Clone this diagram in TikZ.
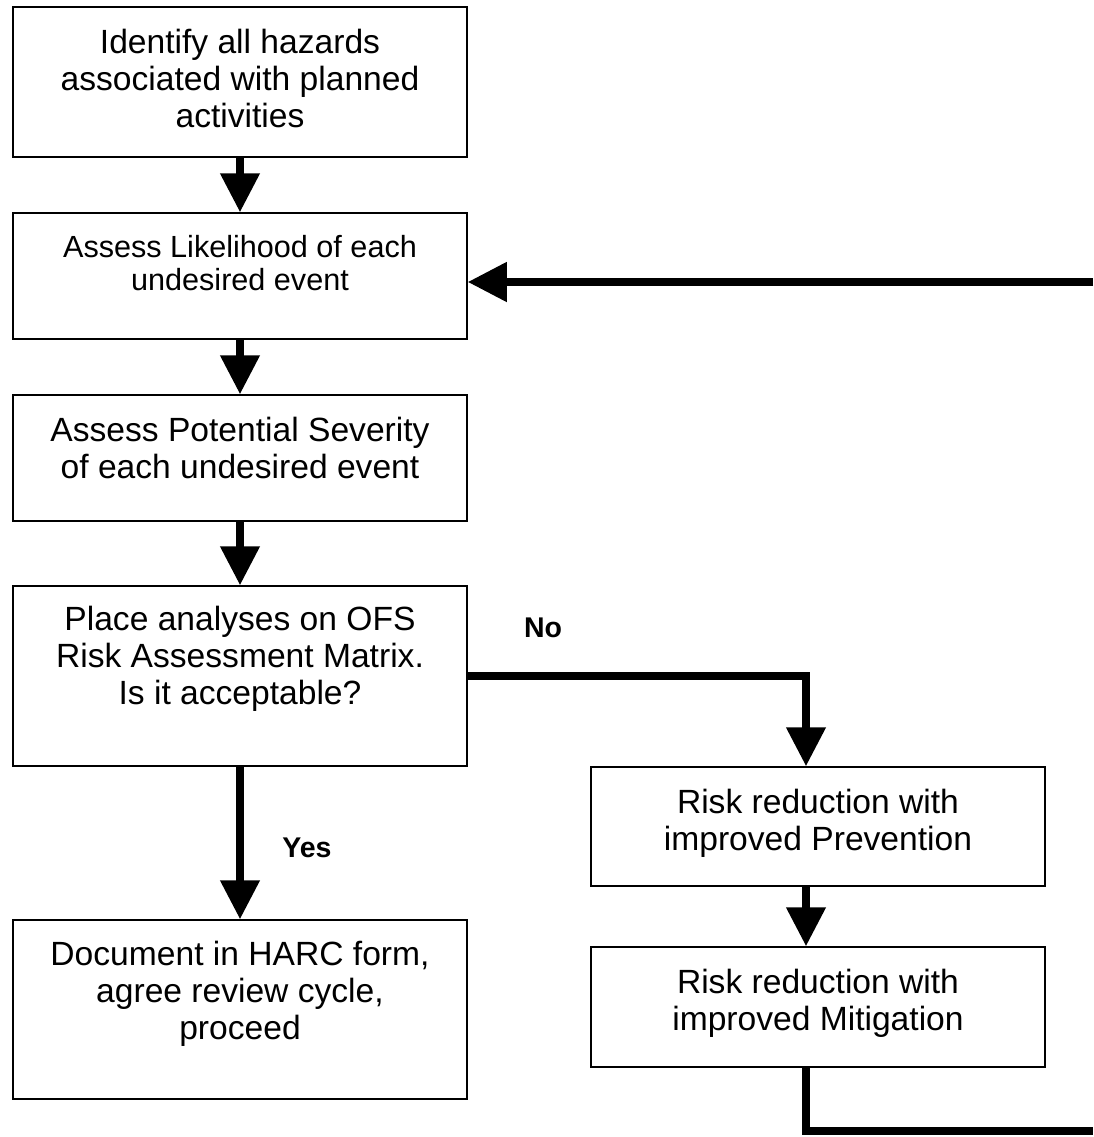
\documentclass[tikz,border=0pt]{standalone}
\usepackage{fontspec}
\setmainfont{Liberation Sans}
\usetikzlibrary{arrows.meta}

\tikzset{
	stepbox/.style={draw, line width=1.5pt, minimum width=454pt, inner sep=0pt},
	steptext/.style={anchor=north, inner sep=0pt, align=center, font=\fontsize{33.6}{37}\selectfont},
	flowline/.style={line width=7.7pt},
	flowarrow/.style={line width=7.7pt, -{Triangle[width=38pt,length=39pt]}},
	answer/.style={font=\bfseries\fontsize{28.5}{32}\selectfont}
}

\begin{document}
\begin{tikzpicture}[x=1pt,y=-1pt]
	\useasboundingbox (0,0) rectangle (1093,1137);

	% left column
	\node[stepbox, minimum height=150pt] (b1) at (240,82) {};
	\node[stepbox, minimum height=126pt] (b2) at (240,276) {};
	\node[stepbox, minimum height=126pt] (b3) at (240,458) {};
	\node[stepbox, minimum height=180pt] (b4) at (240,676) {};
	\node[stepbox, minimum height=179pt] (b5) at (240,1009.5) {};
	% right column
	\node[stepbox, minimum height=119pt] (r1) at (818,826.5) {};
	\node[stepbox, minimum height=120pt] (r2) at (818,1007) {};

	\node[steptext] (t1) at ([yshift=-23pt]b1.north) {Identify all hazards\\associated with planned\\activities};
	\node[steptext, font=\fontsize{30.6}{33}\selectfont] (t2) at ([yshift=-23pt]b2.north) {Assess Likelihood of each\\undesired event};
	\node[steptext] (t3) at ([yshift=-23pt]b3.north) {Assess Potential Severity\\of each undesired event};
	\node[steptext] (t4) at ([yshift=-21pt]b4.north) {Place analyses on OFS\\Risk Assessment Matrix.\\Is it acceptable?};
	\node[steptext] (t5) at ([yshift=-22pt]b5.north) {Document in HARC form,\\agree review cycle,\\proceed};
	\node[steptext] (t6) at ([yshift=-23pt]r1.north) {Risk reduction with\\improved Prevention};
	\node[steptext] (t7) at ([yshift=-23pt]r2.north) {Risk reduction with\\improved Mitigation};

	\node[answer] (no) at (543,628) {No};
	\node[answer] (yes) at (307,848) {Yes};

	\coordinate (bend) at (806,676);
	\coordinate (loopend) at (1093,1131);
	\coordinate (loopin) at (1093,282);

	\draw[flowarrow] (b1) -- (b2);
	\draw[flowarrow] (b2) -- (b3);
	\draw[flowarrow] (b3) -- (b4);
	\draw[flowarrow] (b4) -- (b5);
	\draw[flowarrow] (b4.east) -| (bend |- r1.north);
	\draw[flowarrow] (r1.south -| bend) -- (r2.north -| bend);
	\draw[flowline] (r2.south -| bend) |- (loopend);
	\draw[flowarrow] (loopin) -- (b2.east |- loopin);
\end{tikzpicture}
\end{document}
